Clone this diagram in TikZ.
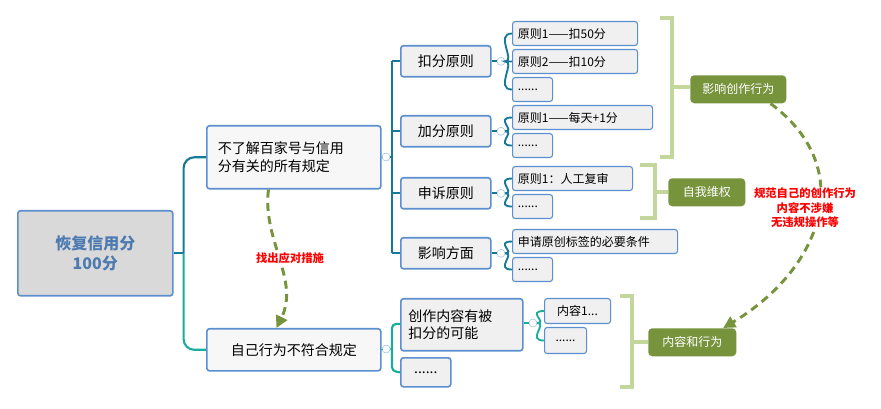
\documentclass[tikz,border=0pt]{standalone}
\usepackage{fontspec}
\setmainfont{Noto Sans CJK SC}
\usetikzlibrary{arrows.meta}
\definecolor{bd}{HTML}{5B8FD0}
\definecolor{ln}{HTML}{17799A}
\definecolor{ln2}{HTML}{19AE9C}
\definecolor{gr}{HTML}{77933C}
\definecolor{lg}{HTML}{C3D69B}
\newcommand\mysix{......}
\begin{document}
\begin{tikzpicture}[x=0.75pt,y=-0.75pt,
  box/.style={draw=bd,line width=1.2pt,rounded corners=2pt,fill=#1,inner sep=0pt,anchor=north west,font=\fontsize{10.5}{13}\selectfont,align=left},
  box/.default={black!6},
  leaf/.style={draw=bd,line width=0.8pt,rounded corners=2pt,fill=black!6,inner sep=0pt,anchor=north west,font=\fontsize{9}{11}\selectfont},
  tag/.style={fill=gr,rounded corners=3pt,text=white,font=\fontsize{9}{11}\selectfont\itshape,inner sep=0pt,anchor=north west},
  con/.style={ln,line width=1.6pt},
  brk/.style={lg,line width=3pt},
  dsh/.style={gr,line width=2.2pt,dash pattern=on 6pt off 4pt,-{Triangle[length=9pt,width=9pt]}},
  red/.style={text=red,font=\fontsize{8.5}{11}\selectfont\bfseries\itshape,align=center},
  cc/.style={circle,draw=bd!60,fill=white,inner sep=0pt,minimum size=6pt}]
\useasboundingbox (0,0) rectangle (881,409);
% root
\node[box=black!15,minimum width=116.25pt,minimum height=63.75pt,align=center,text=bd!85!black,font=\fontsize{12}{15}\selectfont\bfseries] (root) at (17,210) {恢复信用分\\100分};
\node[box=blue!10!black!3!white,minimum width=130.5pt,minimum height=47.25pt,text width=120pt] (A) at (206,125) {\hspace*{3pt}不了解百家号与信用\\\hspace*{3pt}分有关的所有规定};
\node[box=blue!10!black!3!white,minimum width=130.5pt,minimum height=31.5pt,align=center] (B) at (206,328) {自己行为不符合规定};
\foreach \n/\y/\t in {k/45/扣分原则,j/115/加分原则,s/177/申诉原则,y/237/影响方面}
  \node[box,minimum width=67.5pt,minimum height=23.25pt,align=center] (\n) at (400,\y) {\t};
\node[box,minimum width=91.5pt,minimum height=39pt,text width=84pt] (c) at (400,298) {\hspace*{2pt}创作内容有被\\\hspace*{2pt}扣分的可能};
\node[box,minimum width=37.5pt,minimum height=21.75pt,align=center] (d) at (400,357) {\mysix};
% leaves
\foreach \n/\y/\w/\t in {k1/21/93.75/原则1——扣50分,k2/49/93.75/原则2——扣10分,k3/77/30/\mysix,j1/105/105/原则1——每天+1分,j2/133/30/\mysix,s1/166/90/原则1：人工复审,s2/194/30/\mysix,y1/229/123.75/申请原创标签的必要条件,y2/257/30/\mysix}
  \node[leaf,minimum width=\w pt,minimum height=18pt,text width=\w pt-8pt,align=left] (\n) at (512,\y) {\t};
\node[leaf,minimum width=49.5pt,minimum height=18.75pt,align=center] (c1) at (544,298) {内容1...};
\node[leaf,minimum width=31.5pt,minimum height=19.5pt,align=center] (c2) at (544,327) {\mysix};
% root connectors
\draw[con] (root.east) -- ++(10,0) coordinate (r0);
\draw[con,rounded corners=8pt] (r0) |- (A.west);
\draw[ln2,line width=1.6pt,rounded corners=8pt] (r0) |- (B.west);
% A to level2
\node[cc] (ca) at (386,157) {};
\node[cc] (cb) at (386,349) {};
\draw[con] (A.east) -- (ca.west);
\draw[con] (ca.east) -- (392,157);
\draw[con] (392,61) -- (392,253);
\foreach \n in {k,j,s,y} \draw[con] (392,0 |- \n.west) -- (\n.west);
\draw[ln2,line width=1.6pt] (B.east) -- (cb.west) (cb.east) -- (392,349);
\draw[ln2,line width=1.6pt,rounded corners=3pt] (400,324) -- (392,324) -- (392,371) -- (d.west);
% level2 to leaves
\foreach \p/\ls in {k/{k1,k2,k3},j/{j1,j2},s/{s1,s2},y/{y1,y2}}{
  \node[cc] (cc\p) at ([xshift=7pt]\p.east) {};
  \draw[con] (\p.east) -- (cc\p.west);
  \foreach \l in \ls
    \draw[con,line width=1.4pt] (cc\p.east) .. controls ([xshift=8pt]cc\p.east) and ([xshift=-8pt]cc\p.east |- \l.west) .. (\l.west);
}
\node[cc] (ccc) at ([xshift=7pt]c.east |- 0,323) {};
\draw[ln2,line width=1.4pt] (c.east |- ccc) -- (ccc.west);
\foreach \l in {c1,c2}
  \draw[ln2,line width=1.4pt] (ccc.east) .. controls ([xshift=8pt]ccc.east) and ([xshift=-8pt]ccc.east |- \l.west) .. (\l.west);
% brackets
\draw[brk] (660,18) -- (672,18) -- (672,157) -- (660,157) (672,87) -- (690,87);
\draw[brk] (640,165) -- (655,165) -- (655,218) -- (640,218) (655,192) -- (668,192);
\draw[brk] (620,296) -- (632,296) -- (632,387) -- (620,387) (632,342) -- (648,342);
\node[tag,minimum width=72pt,minimum height=21pt] (t1) at (690,75) {影响创作行为};
\node[tag,minimum width=57.75pt,minimum height=21pt] (t2) at (668,178) {自我维权};
\node[tag,minimum width=66pt,minimum height=21pt] (t3) at (648,328) {内容和行为};
% dashed relations
\draw[dsh] ([xshift=-19pt]A.south) .. controls (262,240) and (300,280) .. ([xshift=-13pt]B.north);
\node[red,fill=white,inner sep=1pt] at (290,258) {找出应对措施};
\draw[dsh] ([xshift=-12pt]t1.south east) .. controls (860,170) and (820,270) .. ([xshift=-10pt]t3.north east);
\node[red,fill=white,inner sep=1pt] at (805,208) {规范自己的创作行为\\内容不涉嫌\\无违规操作等};
\end{tikzpicture}
\end{document}
